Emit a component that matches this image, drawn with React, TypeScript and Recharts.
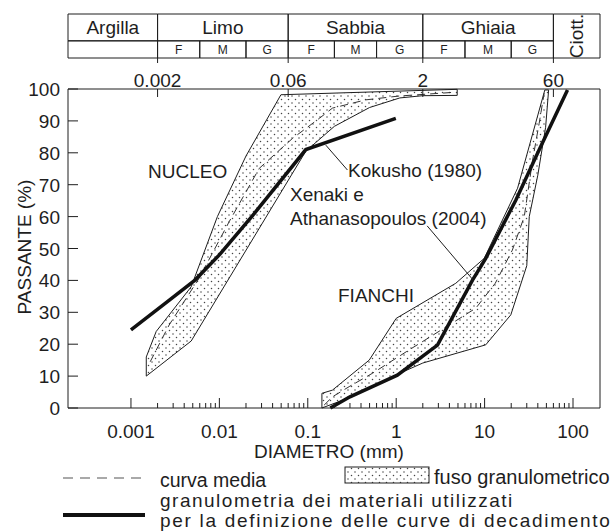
import {
  ComposedChart,
  Area,
  Line,
  XAxis,
  YAxis,
  ReferenceArea,
  ReferenceLine,
} from 'recharts'

const FONT = '"Liberation Sans", Arial, Helvetica, sans-serif'
const INK = '#1e1e1e'

// log axis, diameter in mm
const X_DOMAIN: [number, number] = [0.000194, 202]
const DECADE_TICKS = [0.001, 0.01, 0.1, 1, 10, 100]
const MINOR_STEPS = [2, 3, 4, 5, 6, 7, 8, 9]
const AXIS_TICKS = [
  ...DECADE_TICKS,
  ...DECADE_TICKS.slice(0, -1).flatMap((m) => MINOR_STEPS.map((k) => +(k * m).toPrecision(3))),
]
const PASSING_TICKS = [0, 10, 20, 30, 40, 50, 60, 70, 80, 90, 100]

// classification table (AGI)
const CLASS_LIMITS = [0.002, 0.06, 2, 60]
const CLASS_NAMES = ['Argilla', 'Limo', 'Sabbia', 'Ghiaia']
const SUB_LIMITS = [0.002, 0.006, 0.02, 0.06, 0.2, 0.6, 2, 6, 20, 60]
const SUB_NAMES = ['F', 'M', 'G', 'F', 'M', 'G', 'F', 'M', 'G']

// NUCLEO - fuso granulometrico
const NUCLEO_D = [0.00149, 0.00193, 0.0048, 0.0095, 0.02, 0.0497, 0.095, 0.2, 0.5, 1.1, 2, 4.9]
const NUCLEO_LOW = [10, 12.4, 21, 34.6, 49.4, 67.6, 80.5, 88.3, 94.2, 97.2, 97.9, 98.0]
const NUCLEO_HIGH = [16, 24, 38, 60, 79, 98.2, 98.4, 98.7, 99.05, 99.35, 99.6, 99.9]
const NUCLEO_UPPER = [[0.00149, 16], [0.00193, 24], [0.0048, 38], [0.0095, 60], [0.02, 79], [0.0497, 98.2], [4.9, 99.9]]
const NUCLEO_LOWER = [[0.00149, 10], [0.0048, 21], [0.095, 80.5], [0.2, 88.3], [0.5, 94.2], [1.1, 97.2], [2, 97.9], [4.9, 98.0]]
const NUCLEO_MEAN = [[0.00165, 14.5], [0.0027, 26], [0.0059, 40.7], [0.0129, 58.4], [0.0282, 75.1], [0.0671, 84.5], [0.135, 90.8], [0.19, 94], [0.454, 96.6], [1.08, 97.8], [4.73, 99.0]]
const KOKUSHO = [[0.001, 24.5], [0.0025, 33], [0.0053, 40.1], [0.01, 48], [0.024, 60.5], [0.095, 81], [0.99, 90.8]]

// FIANCHI - fuso granulometrico
const FIANCHI_D = [0.1445, 0.19, 0.3, 0.495, 1.0, 2.0, 4.72, 10, 19.8, 23.6, 30, 32, 40, 48, 53]
const FIANCHI_LOW = [0, 1.2, 3.3, 6.3, 10.4, 14.1, 17.1, 19.7, 29.2, 35.7, 44.6, 60, 73, 86.5, 99.7]
const FIANCHI_HIGH = [4.6, 5.6, 10.1, 15.0, 28.1, 33.1, 39.1, 47.2, 64.5, 68.9, 79.3, 82.1, 91.8, 99.7, 99.7]
const FIANCHI_UPPER = [[0.1445, 4.6], [0.19, 5.6], [0.495, 15], [1.0, 28.1], [4.72, 39.1], [9.9, 46.9], [23.6, 68.9], [48, 99.7], [53, 99.7]]
const FIANCHI_LOWER = [[0.1445, 0], [0.3, 3.3], [1.0, 10.4], [2.0, 14.1], [10.3, 19.8], [19.8, 29.2], [30, 44.6], [32, 60], [40, 73], [49, 88], [53, 99.7]]
const FIANCHI_MEAN = [[0.153, 0.9], [0.19, 3.5], [0.294, 6.7], [0.54, 10.9], [1.4, 18.2], [3.97, 26], [7.96, 31.3], [13.2, 39.1], [20.6, 49.5], [28.1, 60], [34.9, 77.7], [41.4, 89.2], [47.2, 98.7]]
const XENAKI = [[0.18, 0], [0.3, 3.5], [1.03, 10.3], [2.93, 19.7], [7.3, 40.1], [10.3, 46.9], [22.6, 65.2], [39.6, 79.8], [86.6, 99.7]]

const toPoints = (pts: number[][]) => pts.map(([d, p]) => ({ d, p }))
const toBand = (ds: number[], lo: number[], hi: number[]) =>
  ds.map((d, i) => ({ d, range: [lo[i], hi[i]] }))
const toOutline = (upper: number[][], lower: number[][]) =>
  toPoints([...upper, ...[...lower].reverse(), upper[0]])
// invisible anchor points so that the class-limit axes get data
const limitAnchors = CLASS_LIMITS.map((d) => ({ d, p: 0 }))

const txt = { fontFamily: FONT, fill: INK }

function diameterTick(props: any) {
  const { x, y, payload } = props
  const major = DECADE_TICKS.includes(payload.value)
  return (
    <g>
      <line x1={x} x2={x} y1={y} y2={y - (major ? 10 : 5)} stroke={INK} />
      {major && (
        <text x={x} y={y + 30} textAnchor="middle" fontSize={19} {...txt}>
          {String(payload.value)}
        </text>
      )}
    </g>
  )
}

function passingTick(props: any) {
  const { x, y, payload } = props
  return (
    <g>
      <line x1={x} x2={x + 10} y1={y} y2={y} stroke={INK} />
      <text x={x - 8} y={y + 7} textAnchor="end" fontSize={19} {...txt}>
        {payload.value}
      </text>
    </g>
  )
}

function limitTick(props: any) {
  const { x, y } = props
  return <line x1={x} x2={x} y1={y} y2={y + 8} stroke={INK} />
}

function limitLabelTick(props: any) {
  const { x, y, payload } = props
  return (
    <g>
      <line x1={x} x2={x} y1={y} y2={y + 5} stroke={INK} />
      <text x={x} y={y + 29} textAnchor="middle" fontSize={19} {...txt}>
        {String(payload.value)}
      </text>
    </g>
  )
}

const ROW_SPLIT = 0.39

function ClassTable() {
  const classEdges = [X_DOMAIN[0], ...CLASS_LIMITS]
  return (
    <ComposedChart width={614} height={90} margin={{ top: 14, right: 14, bottom: 0, left: 68 }}>
      <XAxis
        dataKey="d"
        type="number"
        scale="log"
        domain={X_DOMAIN}
        allowDataOverflow
        ticks={CLASS_LIMITS}
        interval={0}
        tick={limitLabelTick}
        axisLine={false}
        tickLine={false}
        tickSize={0}
        tickMargin={0}
        height={32}
      />
      <YAxis hide type="number" domain={[0, 1]} allowDataOverflow />
      <Line data={limitAnchors} dataKey="p" stroke="none" dot={false} isAnimationActive={false} />
      {CLASS_NAMES.map((name, i) => (
        <ReferenceArea
          key={name}
          x1={classEdges[i]}
          x2={classEdges[i + 1]}
          y1={ROW_SPLIT}
          y2={1}
          ifOverflow="visible"
          fill="none"
          stroke={INK}
          label={{ value: name, position: 'center', fontSize: 19, ...txt }}
        />
      ))}
      <ReferenceArea x1={X_DOMAIN[0]} x2={SUB_LIMITS[0]} y1={0} y2={ROW_SPLIT} ifOverflow="visible" fill="none" stroke={INK} />
      {SUB_NAMES.map((name, i) => (
        <ReferenceArea
          key={`sub-${i}`}
          x1={SUB_LIMITS[i]}
          x2={SUB_LIMITS[i + 1]}
          y1={0}
          y2={ROW_SPLIT}
          ifOverflow="visible"
          fill="none"
          stroke={INK}
          label={{ value: name, position: 'center', fontSize: 12, ...txt }}
        />
      ))}
      <ReferenceArea
        x1={60}
        x2={X_DOMAIN[1]}
        y1={0}
        y2={1}
        ifOverflow="visible"
        fill="none"
        stroke={INK}
        label={{ value: 'Ciott.', position: 'center', angle: -90, fontSize: 19, ...txt }}
      />
    </ComposedChart>
  )
}

function GradingChart() {
  return (
    <ComposedChart width={614} height={531} margin={{ top: 59, right: 0, bottom: 93, left: 8 }}>
      <XAxis
        dataKey="d"
        type="number"
        scale="log"
        domain={X_DOMAIN}
        allowDataOverflow
        ticks={AXIS_TICKS}
        interval={0}
        tick={diameterTick}
        tickLine={false}
        tickSize={0}
        tickMargin={0}
        height={30}
        stroke={INK}
      />
      <XAxis
        xAxisId="top"
        dataKey="d"
        orientation="top"
        type="number"
        scale="log"
        domain={X_DOMAIN}
        allowDataOverflow
        ticks={CLASS_LIMITS}
        interval={0}
        tick={limitTick}
        tickLine={false}
        tickSize={0}
        tickMargin={0}
        height={30}
        stroke={INK}
      />
      <YAxis
        type="number"
        domain={[0, 100]}
        ticks={PASSING_TICKS}
        interval={0}
        tick={passingTick}
        tickLine={false}
        tickSize={0}
        tickMargin={0}
        width={60}
        stroke={INK}
      />
      <YAxis yAxisId="right" orientation="right" domain={[0, 100]} tick={false} tickLine={false} width={14} stroke={INK} />
      <Line xAxisId="top" data={limitAnchors} dataKey="p" stroke="none" dot={false} isAnimationActive={false} />

      <Area data={toBand(NUCLEO_D, NUCLEO_LOW, NUCLEO_HIGH)} dataKey="range" type="linear" stroke="none" fill="url(#fuso-dots)" fillOpacity={1} isAnimationActive={false} />
      <Area data={toBand(FIANCHI_D, FIANCHI_LOW, FIANCHI_HIGH)} dataKey="range" type="linear" stroke="none" fill="url(#fuso-dots)" fillOpacity={1} isAnimationActive={false} />

      <Line data={toOutline(NUCLEO_UPPER, NUCLEO_LOWER)} dataKey="p" type="linear" stroke={INK} strokeWidth={1} dot={false} isAnimationActive={false} />
      <Line data={toOutline(FIANCHI_UPPER, FIANCHI_LOWER)} dataKey="p" type="linear" stroke={INK} strokeWidth={1} dot={false} isAnimationActive={false} />

      <Line data={toPoints(NUCLEO_MEAN)} dataKey="p" type="linear" stroke="#333" strokeWidth={1} strokeDasharray="8 5" dot={false} isAnimationActive={false} />
      <Line data={toPoints(FIANCHI_MEAN)} dataKey="p" type="linear" stroke="#333" strokeWidth={1} strokeDasharray="8 5" dot={false} isAnimationActive={false} />

      <Line data={toPoints(KOKUSHO)} dataKey="p" type="linear" stroke="#111" strokeWidth={3.5} dot={false} isAnimationActive={false} />
      <Line data={toPoints(XENAKI)} dataKey="p" type="linear" stroke="#111" strokeWidth={3.5} dot={false} isAnimationActive={false} />

      {/* leader lines for the labels */}
      <ReferenceLine segment={[{ x: 0.16, y: 82.4 }, { x: 0.281, y: 74.6 }]} stroke={INK} strokeWidth={1} />
      <ReferenceLine segment={[{ x: 2.24, y: 57.1 }, { x: 7.43, y: 40.1 }]} stroke={INK} strokeWidth={1} />

      <text x={148} y={178} fontSize={19} {...txt}>NUCLEO</text>
      <text x={338} y={302} fontSize={19} {...txt}>FIANCHI</text>
      <text x={348} y={177} fontSize={19} {...txt}>Kokusho (1980)</text>
      <text x={290} y={201} fontSize={19} {...txt}>Xenaki e</text>
      <text x={290} y={225} fontSize={19} {...txt}>Athanasopoulos (2004)</text>
      <text x={329} y={458} fontSize={19} textAnchor="middle" {...txt}>DIAMETRO (mm)</text>
      <text transform="translate(31,247) rotate(-90)" fontSize={19} textAnchor="middle" {...txt}>
        PASSANTE  (%)
      </text>
    </ComposedChart>
  )
}

function LegendBlock() {
  return (
    <svg width={614} height={71} style={{ position: 'absolute', left: 0, top: 460 }}>
      <line x1={63} x2={147} y1={18} y2={18} stroke="#555" strokeWidth={1.2} strokeDasharray="10 7" />
      <text x={160} y={27} fontSize={19.5} {...txt}>curva media</text>
      <rect x={345} y={7} width={84} height={16} fill="url(#fuso-dots)" stroke={INK} strokeWidth={1} />
      <text x={434} y={24} fontSize={20} {...txt}>fuso granulometrico</text>
      <line x1={63} x2={145} y1={55} y2={55} stroke="#111" strokeWidth={4} />
      <text x={160} y={47} fontSize={19} letterSpacing={1.5} {...txt}>granulometria dei materiali utilizzati</text>
      <text x={160} y={67} fontSize={19} letterSpacing={1.7} {...txt}>per la definizione delle curve di decadimento</text>
    </svg>
  )
}

export default function App() {
  return (
    <div style={{ position: 'absolute', left: 0, top: 0, width: 614, height: 531, background: '#fff', overflow: 'hidden' }}>
      <svg width={0} height={0} style={{ position: 'absolute' }}>
        <defs>
          <pattern id="fuso-dots" width={7} height={7} patternUnits="userSpaceOnUse">
            <rect width={7} height={7} fill="#fff" />
            <circle cx={1.5} cy={1.5} r={0.75} fill="#444" />
            <circle cx={5} cy={5} r={0.75} fill="#444" />
          </pattern>
        </defs>
      </svg>
      <div style={{ position: 'absolute', left: 0, top: 0 }}>
        <ClassTable />
      </div>
      <div style={{ position: 'absolute', left: 0, top: 0 }}>
        <GradingChart />
      </div>
      <LegendBlock />
    </div>
  )
}
